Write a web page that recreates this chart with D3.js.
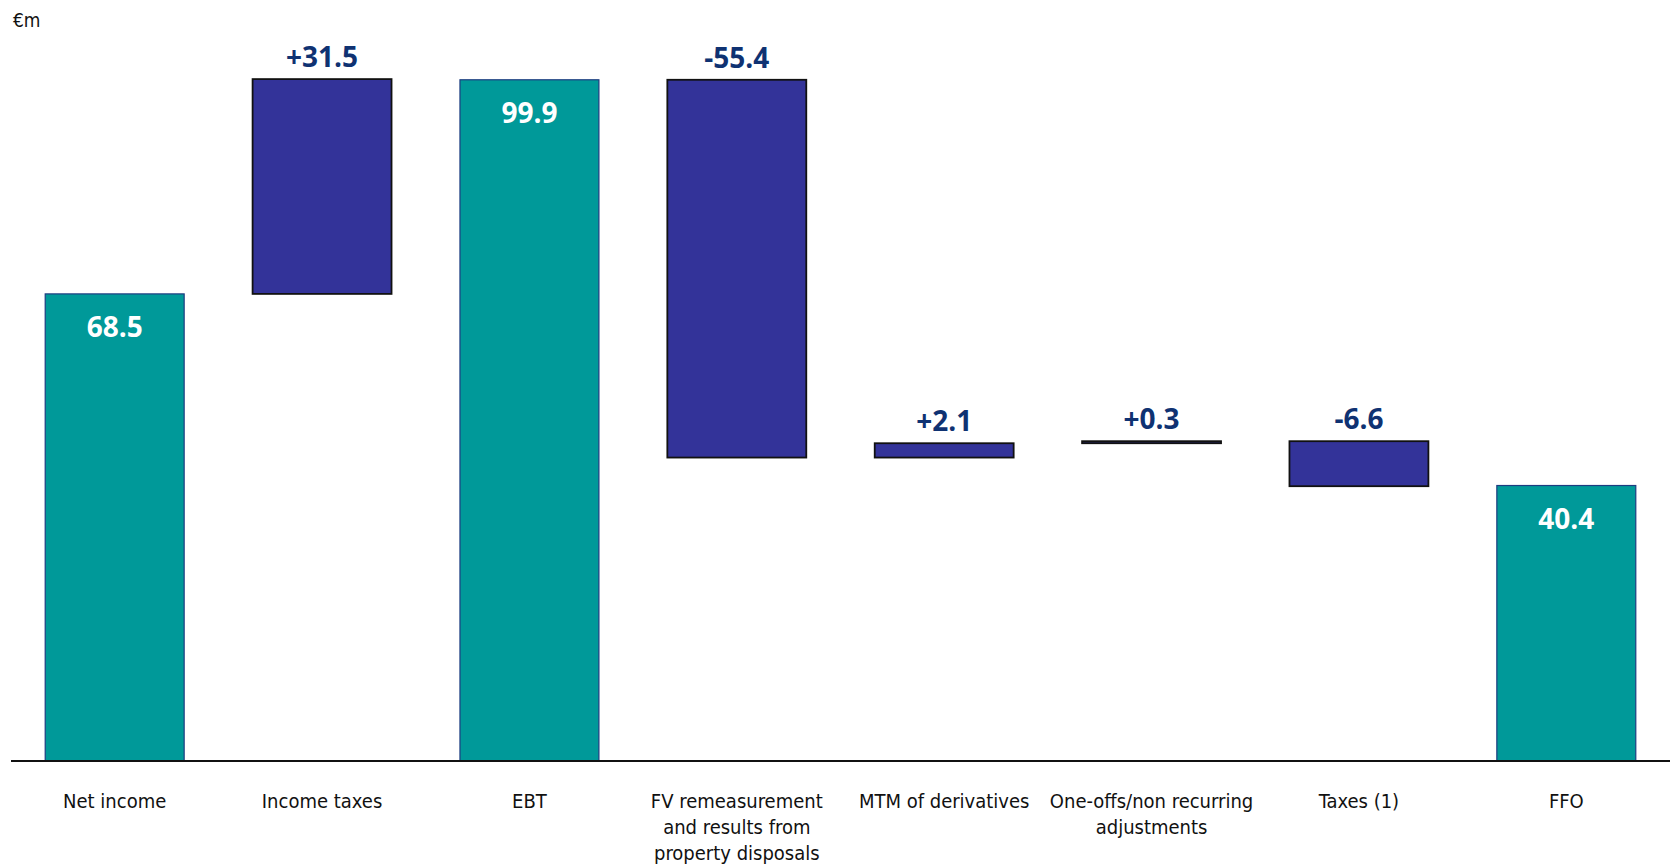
<!DOCTYPE html>
<html>
<head>
<meta charset="utf-8">
<script src="https://cdn.jsdelivr.net/npm/d3@7"></script>
<style>
  html, body { margin: 0; padding: 0; background: #ffffff; }
  svg { display: block; }
  .cond { font-family: "DejaVu Sans Condensed", "DejaVu Sans", sans-serif; font-stretch: condensed; }
  .val { font-family: "Open Sans", "DejaVu Sans", sans-serif; font-weight: bold; }
</style>
</head>
<body>
<svg id="chart" width="1673" height="866"></svg>
<script>
// Bridge from net income to FFO (€m)
const categories = [
  ["Net income"],
  ["Income taxes"],
  ["EBT"],
  ["FV remeasurement", "and results from", "property disposals"],
  ["MTM of derivatives"],
  ["One-offs/non recurring", "adjustments"],
  ["Taxes (1)"],
  ["FFO"]
];
const values = [68.5, 31.5, 99.9, -55.4, 2.1, 0.3, -6.6, 40.4];
const kinds = ["total", "delta", "total", "delta", "delta", "delta", "delta", "total"];
const valueLabels = ["68.5", "+31.5", "99.9", "-55.4", "+2.1", "+0.3", "-6.6", "40.4"];
const unitLabel = "€m";

const baseY = 761;
const svg = d3.select("#chart");

// Stacked start/end for each step of the bridge
let running = 0;
const bars = values.map((v, i) => {
  let start, end;
  if (kinds[i] === "total") { start = 0; end = v; running = v; }
  else { start = running; end = running + v; running = end; }
  return { i, kind: kinds[i], start, end, label: valueLabels[i], cat: categories[i] };
});

const x = d3.scaleBand()
  .domain(d3.range(categories.length))
  .range([11, 1670])
  .paddingInner(0.33)
  .paddingOuter(0.165);

const y = d3.scaleLinear().domain([0, 111.6]).range([baseY, 0]);

// Bars
svg.append("g").selectAll("rect")
  .data(bars)
  .join("rect")
  .attr("x", d => x(d.i))
  .attr("width", x.bandwidth())
  .attr("y", d => y(Math.max(d.start, d.end)))
  .attr("height", d => Math.abs(y(d.start) - y(d.end)))
  .attr("fill", d => d.kind === "total" ? "#009999" : "#333399")
  .attr("stroke", d => d.kind === "total" ? "#1d3c80" : "#111111")
  .attr("stroke-width", d => d.kind === "total" ? 1.2 : 1.8);

// Baseline axis
svg.append("line")
  .attr("x1", 11).attr("x2", 1670)
  .attr("y1", baseY).attr("y2", baseY)
  .attr("stroke", "#111111")
  .attr("stroke-width", 2);

// Value labels: totals inside the bar in white, changes above the bar in navy
svg.append("g").selectAll("text")
  .data(bars)
  .join("text")
  .attr("class", "val")
  .attr("x", d => x(d.i) + x.bandwidth() / 2)
  .attr("y", d => d.kind === "total"
    ? y(d.end) + 43
    : y(Math.max(d.start, d.end)) - 12)
  .attr("text-anchor", "middle")
  .attr("font-size", 28)
  .attr("fill", d => d.kind === "total" ? "#ffffff" : "#0f3272")
  .text(d => d.label);

// Category labels below the axis
const catG = svg.append("g").selectAll("text")
  .data(bars)
  .join("text")
  .attr("class", "cond")
  .attr("x", d => x(d.i) + x.bandwidth() / 2)
  .attr("y", 808)
  .attr("text-anchor", "middle")
  .attr("font-size", 20)
  .attr("fill", "#111111");
catG.selectAll("tspan")
  .data(d => d.cat.map(t => ({ t, cx: x(d.i) + x.bandwidth() / 2 })))
  .join("tspan")
  .attr("x", d => d.cx)
  .attr("dy", (d, k) => k === 0 ? 0 : 26)
  .text(d => d.t);

// Unit label
svg.append("text")
  .attr("class", "cond")
  .attr("x", 13)
  .attr("y", 27)
  .attr("font-size", 19)
  .attr("fill", "#111111")
  .text(unitLabel);
</script>
</body>
</html>
